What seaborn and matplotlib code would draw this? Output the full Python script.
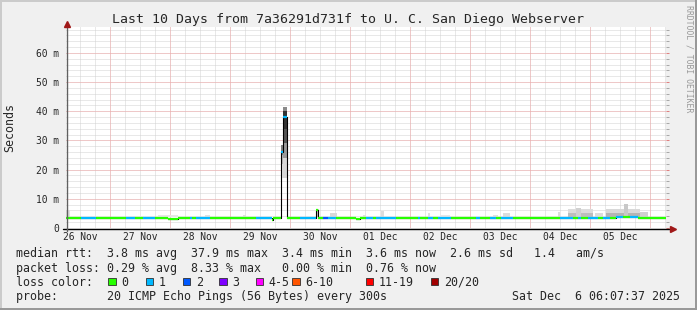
import numpy as np
import pandas as pd
import matplotlib
matplotlib.use("Agg")
import matplotlib.pyplot as plt
import seaborn as sns
from matplotlib.patches import Rectangle
from matplotlib.lines import Line2D

# ---------------- data (hours since Nov 26 06:07) ----------------
seg_start = [0.3, 6.4, 12.4, 24.4, 28.0, 31.2, 36.0, 41.2, 45.2, 50.0, 50.8, 52.4, 58.0,
             76.4, 82.8, 83.2, 86.4, 87.2, 88.6, 94.0, 100.4, 101.2, 103.2, 105.2, 108.4,
             116.4, 118.0, 120.4, 123.2, 124.4, 132.4, 141.2, 142.0, 145.2, 147.2, 149.2,
             154.4, 164.4, 166.0, 170.0, 172.4, 174.4, 179.2, 198.0, 203.2, 205.2, 206.4,
             209.2, 213.2, 215.2, 218.0, 220.4, 223.2, 226.0, 229.2]
seg_value = [3.5, 3.5, 3.5, 3.5, 3.5, 3.5, 3.5, 3.0, 3.5, 3.5, 3.5, 3.5, 3.5,
             3.5, 2.9, 3.5, 26.0, 37.9, 3.5, 3.5, 6.0, 3.5, 3.5, 3.5, 3.5,
             3.0, 3.5, 3.5, 3.5, 3.5, 3.5, 3.5, 3.5, 3.5, 3.5, 3.5,
             3.5, 3.5, 3.5, 3.5, 3.5, 3.5, 3.5, 3.5, 3.4, 3.5, 3.5,
             3.5, 3.5, 3.5, 3.5, 3.6, 3.6, 3.6, 3.5]
seg_loss = [0, 1, 0, 1, 0, 1, 0, 0, 0, 1, 0, 1, 0,
            1, 0, 0, 1, 1, 0, 1, 0, 0, 2, 1, 0,
            0, 0, 1, 0, 1, 0, 1, 0, 1, 0, 1,
            0, 1, 0, 1, 0, 1, 0, 1, 0, 1, 0,
            1, 0, 1, 0, 1, 0, 1, 0]
t_end = 240.3

smoke_start = [0.4, 10.4, 27.0, 37.0, 56.0, 71.2,
               86.4, 86.4, 86.4,
               87.2, 87.2, 87.2, 87.2, 87.2,
               100.2, 106.0, 119.2, 126.4, 145.0, 150.0, 171.0, 175.0, 197.0,
               201.0, 201.0, 204.4, 212.0, 216.4, 216.4, 223.6, 230.0]
smoke_end = [2.0, 13.2, 31.5, 45.0, 58.0, 72.4,
             87.2, 87.2, 87.2,
             88.6, 88.6, 88.6, 88.6, 88.6,
             101.4, 108.5, 120.4, 127.6, 146.0, 154.0, 173.0, 178.0, 198.0,
             211.0, 211.0, 206.4, 215.0, 230.0, 230.0, 225.2, 233.0]
smoke_low = [3.6, 3.6, 3.6, 3.6, 3.6, 3.6,
             17.0, 22.0, 25.0,
             17.0, 24.0, 29.0, 34.0, 40.2,
             3.6, 3.6, 3.6, 3.6, 3.6, 3.6, 3.6, 3.6, 3.6,
             3.6, 3.6, 3.6, 3.6, 3.6, 3.6, 3.6, 3.6]
smoke_high = [6.2, 4.1, 4.2, 4.3, 4.6, 4.5,
              22.0, 25.0, 28.5,
              24.0, 29.0, 34.0, 40.2, 41.6,
              6.5, 5.0, 4.6, 5.8, 5.0, 4.6, 4.5, 5.2, 5.6,
              6.4, 5.0, 7.0, 5.2, 6.6, 5.2, 8.1, 5.5]
smoke_gray = ["#e0e0e0", "#e6e6e6", "#e6e6e6", "#e6e6e6", "#e0e0e0", "#e0e0e0",
              "#e4e4e4", "#b8b8b8", "#808080",
              "#d8d8d8", "#9a9a9a", "#555555", "#333333", "#8a8a8a",
              "#c8c8c8", "#d8d8d8", "#e0e0e0", "#dcdcdc", "#e0e0e0", "#e6e6e6", "#e0e0e0",
              "#dcdcdc", "#dcdcdc",
              "#dcdcdc", "#bdbdbd", "#d0d0d0", "#dcdcdc", "#d8d8d8", "#b4b4b4", "#c8c8c8",
              "#d0d0d0"]

day_labels = ["26 Nov", "27 Nov", "28 Nov", "29 Nov", "30 Nov",
              "01 Dec", "02 Dec", "03 Dec", "04 Dec", "05 Dec"]
first_midnight = 17.883  # hours from start to Nov 27 00:00
ytick_vals = [0, 10, 20, 30, 40, 50, 60]
ytick_labels = ["0", "10 m", "20 m", "30 m", "40 m", "50 m", "60 m"]

loss_labels = ["0", "1", "2", "3", "4-5", "6-10", "11-19", "20/20"]
loss_colors = ["#26ff00", "#00b8ff", "#0059ff", "#7e00ff", "#ff00ff",
               "#ff5500", "#ff0000", "#a10000"]

title = "Last 10 Days from 7a36291d731f to U. C. San Diego Webserver"
row_median = "median rtt:  3.8 ms avg  37.9 ms max  3.4 ms min  3.6 ms now  2.6 ms sd   1.4   am/s"
row_loss = "packet loss: 0.29 % avg  8.33 % max   0.00 % min  0.76 % now"
row_probe = "probe:       20 ICMP Echo Pings (56 Bytes) every 300s"
row_date = "Sat Dec  6 06:07:37 2025"

# ---------------- figure ----------------
sns.set_style("white")
plt.rcParams["font.family"] = ["DejaVu Sans Mono"]

W, H = 697, 310
fig = plt.figure(figsize=(W / 100, H / 100), dpi=100, facecolor="#f0f0f0")


def P(x, y):
    return (x / W, 1 - y / H)


ax = fig.add_axes([66 / W, (H - 228) / H, 600 / W, 201 / H], facecolor="white")
ax.set_xlim(0.28, 240.28)
ax.set_ylim(0, 68.9)
for s in ax.spines.values():
    s.set_visible(False)

# grid
minor_x = np.arange(first_midnight - 12, 241, 6)
major_x = np.arange(first_midnight, 241, 24)
gkw = dict(lw=0.72, ls=(0, (1, 1)))
for xv in minor_x:
    ax.axvline(xv, color="#d2d2d2", zorder=0.5, **gkw)
for xv in major_x:
    ax.axvline(xv, color="#f5aaaa", zorder=0.6, **gkw)
for yv in np.arange(2, 69, 2):
    ax.axhline(yv, color="#d2d2d2", zorder=0.5, **gkw)
for yv in ytick_vals[1:]:
    ax.axhline(yv, color="#f5aaaa", zorder=0.6, **gkw)

# smoke
ax.bar(smoke_start, np.array(smoke_high) - np.array(smoke_low),
       width=np.array(smoke_end) - np.array(smoke_start), bottom=smoke_low,
       align="edge", color=smoke_gray, linewidth=0, zorder=2)

# median step line (black connectors)
df = pd.DataFrame({"t": seg_start + [t_end], "v": seg_value + [seg_value[-1]]})
sns.lineplot(data=df, x="t", y="v", drawstyle="steps-post", color="black",
             linewidth=0.8, estimator=None, ax=ax, zorder=3)
# colored median segments
seg_end = seg_start[1:] + [t_end]
ax.hlines(seg_value, seg_start, seg_end, colors=[loss_colors[i] for i in seg_loss],
          linewidth=1.6, zorder=4)

ax.set_xlabel("")
ax.set_ylabel("")

# ticks
ax.set_xticks(np.arange(first_midnight - 12, 240, 24))
ax.set_xticklabels(day_labels)
ax.set_yticks(ytick_vals)
ax.set_yticklabels(ytick_labels)
ax.set_yticks(np.arange(0, 69, 2), minor=True)
ax.tick_params(axis="x", length=0, pad=3.2, labelsize=6.97)
ax.tick_params(axis="y", which="both", direction="out", length=2.2, width=0.72,
               color="#a8a8a8", labelsize=6.97, pad=2.6, right=True)
ax.tick_params(axis="y", which="major", color="#e08080")

# axes lines and arrows
fig.add_artist(Line2D([63 / W, 670 / W], [1 - 228.5 / H] * 2, color="black", lw=1.0))
fig.add_artist(Line2D([66.5 / W] * 2, [1 - 231 / H, 1 - 25 / H], color="#606060", lw=1.0))
fig.add_artist(Line2D([673 / W], [1 - 228.5 / H], marker=">", color="#a01818",
                      markersize=4.5, lw=0))
fig.add_artist(Line2D([66.5 / W], [1 - 24 / H], marker="^", color="#a01818",
                      markersize=4.5, lw=0))

# texts
fig.text(*P(348.5, 23.5), title, ha="center", va="baseline", fontsize=9.59)
fig.text(*P(10, 127.5), "Seconds", rotation=90, ha="center", va="center", fontsize=8.37)
fig.text(*P(689, 59), "RRDTOOL / TOBI OETIKER", rotation=270, ha="center", va="center",
         fontsize=5.86, color="#999999")
fig.text(*P(16, 257.5), row_median, ha="left", va="baseline", fontsize=8.37)
fig.text(*P(16, 271.6), row_loss, ha="left", va="baseline", fontsize=8.37)
fig.text(*P(16, 285.7), "loss color:", ha="left", va="baseline", fontsize=8.37)
fig.text(*P(16, 299.8), row_probe, ha="left", va="baseline", fontsize=8.37)
fig.text(*P(680, 299.8), row_date, ha="right", va="baseline", fontsize=8.37)

box_x = [108.3, 145.7, 182.7, 219.0, 255.7, 292.3, 365.7, 430.7]
for bx, lab, col in zip(box_x, loss_labels, loss_colors):
    fig.add_artist(Rectangle(P(bx, 285.3), 7.7 / W, 7.7 / H, facecolor=col,
                             edgecolor="#303030", linewidth=0.6))
    fig.text(*P(bx + 13, 285.7), lab, ha="left", va="baseline", fontsize=8.37)

# border shading
fig.add_artist(Rectangle((0, 0), 1.5 / W, 1, facecolor="#cbcbcb", lw=0))
fig.add_artist(Rectangle((0, 1 - 1.5 / H), 1, 1.5 / H, facecolor="#cbcbcb", lw=0))
fig.add_artist(Rectangle((1 - 2 / W, 0), 2 / W, 1, facecolor="#999999", lw=0))
fig.add_artist(Rectangle((0, 0), 1, 2 / H, facecolor="#999999", lw=0))

fig.savefig("out.png", dpi=100, facecolor=fig.get_facecolor())
